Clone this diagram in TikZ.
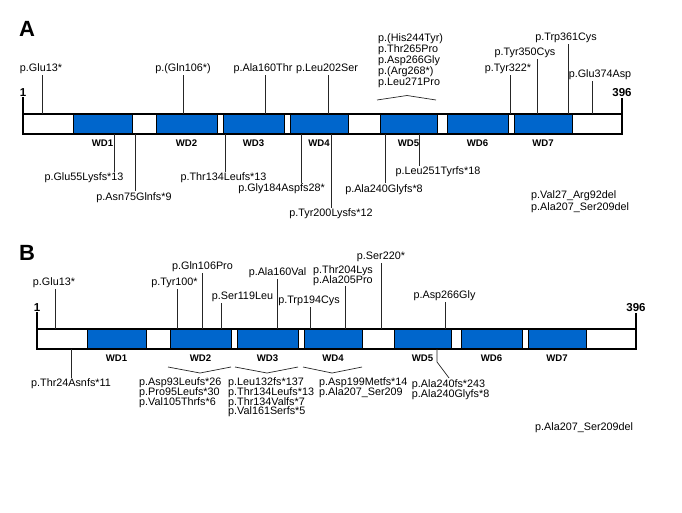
\documentclass[tikz,border=0pt]{standalone}
\usepackage{fontspec}
\setmainfont{Liberation Sans}
\usetikzlibrary{calc,positioning}
\definecolor{wdblue}{RGB}{0,102,204}
\setlength{\lineskiplimit}{-10pt}
\tikzset{%
	protein/.style  = {draw, line width=1.4pt}, % outline of the protein
	wd/.style       = {draw, line width=1pt, fill=wdblue}, % WD40 repeat
	wdlabel/.style  = {font=\fontsize{9.6}{9.6}\selectfont\bfseries, inner sep=0pt},
	endnum/.style   = {font=\fontsize{11.5}{11.5}\selectfont\bfseries, inner sep=0.5pt, anchor=south},
	endtick/.style  = {line width=2.2pt},
	panel/.style    = {font=\fontsize{22}{22}\selectfont\bfseries},
	mut/.style      = {font=\fontsize{10.8}{11}\selectfont, inner sep=1pt}, % one variant
	mutstack/.style = {font=\fontsize{10.8}{#1}\selectfont, align=left, anchor=west, inner sep=0pt}, % list of variants
	mutline/.style  = {line width=0.7pt, black!85},
}

\begin{document}
\begin{tikzpicture}[x=1pt, y=-1pt]
	\useasboundingbox (0,0) rectangle (682,512);
	% the protein, same in A and B
	\foreach \p/\dx/\dy in {A/0/0, B/14/215} {
		\begin{scope}[shift={(\dx,\dy)}]
			\foreach \a/\b/\n in {73/132/1, 156/217/2, 223/284/3, 290/348/4, 380/437/5, 447/508/6, 514/572/7} {
				\draw[wd] (\a,114) rectangle (\b,134);
				\node[wdlabel] (wd\p\n) at ({(\a+\b)/2},143) {WD\n};
			}
			\draw[protein] (23,114) rectangle (622,134);
			\node[endnum] (one\p) at (23,97) {1};
			\node[endnum] (end\p) at (622,97.5) {396};
			\coordinate (s\p) at (23,114);
			\coordinate (e\p) at (622,114);
			\draw[endtick] (s\p) -- (one\p);
			\draw[endtick] (e\p) -- (end\p);
		\end{scope}
	}
	
	% A
	\node[panel] (pA) at (27,29) {A};
	\node[mut] (a13)  at (41,69)   {p.Glu13*};
	\node[mut] (a106) at (183,69)  {p.(Gln106*)};
	\node[mut] (a160) at (263,69)  {p.Ala160Thr};
	\node[mut] (a202) at (327,69)  {p.Leu202Ser};
	\node[mutstack=11] (a244) at (378,60.5) {p.(His244Tyr)\\p.Thr265Pro\\p.Asp266Gly\\p.(Arg268*)\\p.Leu271Pro};
	\node[mut] (a322) at (508,69)  {p.Tyr322*};
	\node[mut] (a350) at (525,53)  {p.Tyr350Cys};
	\node[mut] (a361) at (566,37.5) {p.Trp361Cys};
	\node[mut] (a374) at (600,75)  {p.Glu374Asp};
	\foreach \n/\x in {a13/42, a106/183, a160/265, a202/328, a322/510, a350/537, a361/568, a374/592} {
		\coordinate (k\n) at (\x,114);
		\draw[mutline] (k\n) -- (k\n |- \n.south);
	}
	\coordinate (br5l) at (377,100);
	\coordinate (br5m) at (407,95.5);
	\coordinate (br5r) at (436,100);
	\draw[mutline] (br5l) -- (br5m) -- (br5r);
	
	\node[mut] (b55)  at (84,178)    {p.Glu55Lysfs*13};
	\node[mut] (b75)  at (134,197.5) {p.Asn75Glnfs*9};
	\node[mut] (b134) at (223.5,178) {p.Thr134Leufs*13};
	\node[mut] (b184) at (281.5,189) {p.Gly184Aspfs28*};
	\node[mut] (b200) at (331,214)   {p.Tyr200Lysfs*12};
	\node[mut] (b240) at (384,189.5) {p.Ala240Glyfs*8};
	\node[mut] (b251) at (438,172)   {p.Leu251Tyrfs*18};
	\node[mutstack=12] (bdel) at (531,202) {p.Val27\_Arg92del\\p.Ala207\_Ser209del};
	\foreach \n/\x in {b55/114, b75/135.7, b134/225, b184/301.7, b200/331.7, b240/385.7, b251/419} {
		\coordinate (k\n) at (\x,134);
		\draw[mutline] (k\n) -- (k\n |- \n.north);
	}
	
	% B
	\node[panel] (pB) at (27,253) {B};
	\node[mut] (c13)  at (54,283)    {p.Glu13*};
	\node[mut] (c100) at (174.5,283) {p.Tyr100*};
	\node[mut] (c106) at (202.5,267) {p.Gln106Pro};
	\node[mut] (c119) at (242.5,297) {p.Ser119Leu};
	\node[mut] (c160) at (277.5,273) {p.Ala160Val};
	\node[mut] (c194) at (309,301)   {p.Trp194Cys};
	\node[mutstack=10] (c204) at (313,275.5) {p.Thr204Lys\\p.Ala205Pro};
	\node[mut] (c220) at (381,257)   {p.Ser220*};
	\node[mut] (c266) at (444.5,296) {p.Asp266Gly};
	\foreach \n/\x in {c13/55, c100/177.7, c106/202, c119/221, c160/277, c194/310.7, c204/345.7, c220/381.7, c266/445} {
		\coordinate (k\n) at (\x,329);
		\draw[mutline] (k\n) -- (k\n |- \n.south);
	}
	
	\node[mut] (d24) at (71,384) {p.Thr24Asnfs*11};
	\coordinate (kd24) at (71,349);
	\draw[mutline] (kd24) -- (d24);
	\node[mutstack=10] (d93) at (139,393) {p.Asp93Leufs*26\\p.Pro95Leufs*30\\p.Val105Thrfs*6};
	\node[mutstack=9.8] (d132) at (228,397.5) {p.Leu132fs*137\\p.Thr134Leufs*13\\p.Thr134Valfs*7\\p.Val161Serfs*5};
	\node[mutstack=10.3] (d199) at (319,388) {p.Asp199Metfs*14\\p.Ala207\_Ser209};
	\node[mutstack=10] (d240) at (411.7,389.3) {p.Ala240fs*243\\p.Ala240Glyfs*8};
	\node[mutstack=12] (ddel) at (535,428) {p.Ala207\_Ser209del};
	\foreach \n/\l/\m/\r in {d93/168/200/231, d132/235/267/298, d199/303/332/362} {
		\coordinate (\n l) at (\l,367);
		\coordinate (\n m) at (\m,373);
		\coordinate (\n r) at (\r,367);
		\draw[mutline] (\n l) -- (\n m) -- (\n r);
	}
	\coordinate (kd240) at (437,349);
	\coordinate (jd240) at (437,362);
	\coordinate (td240) at (449,378);
	\draw[mutline] (kd240) -- (jd240) -- (td240);
\end{tikzpicture}
\end{document}
